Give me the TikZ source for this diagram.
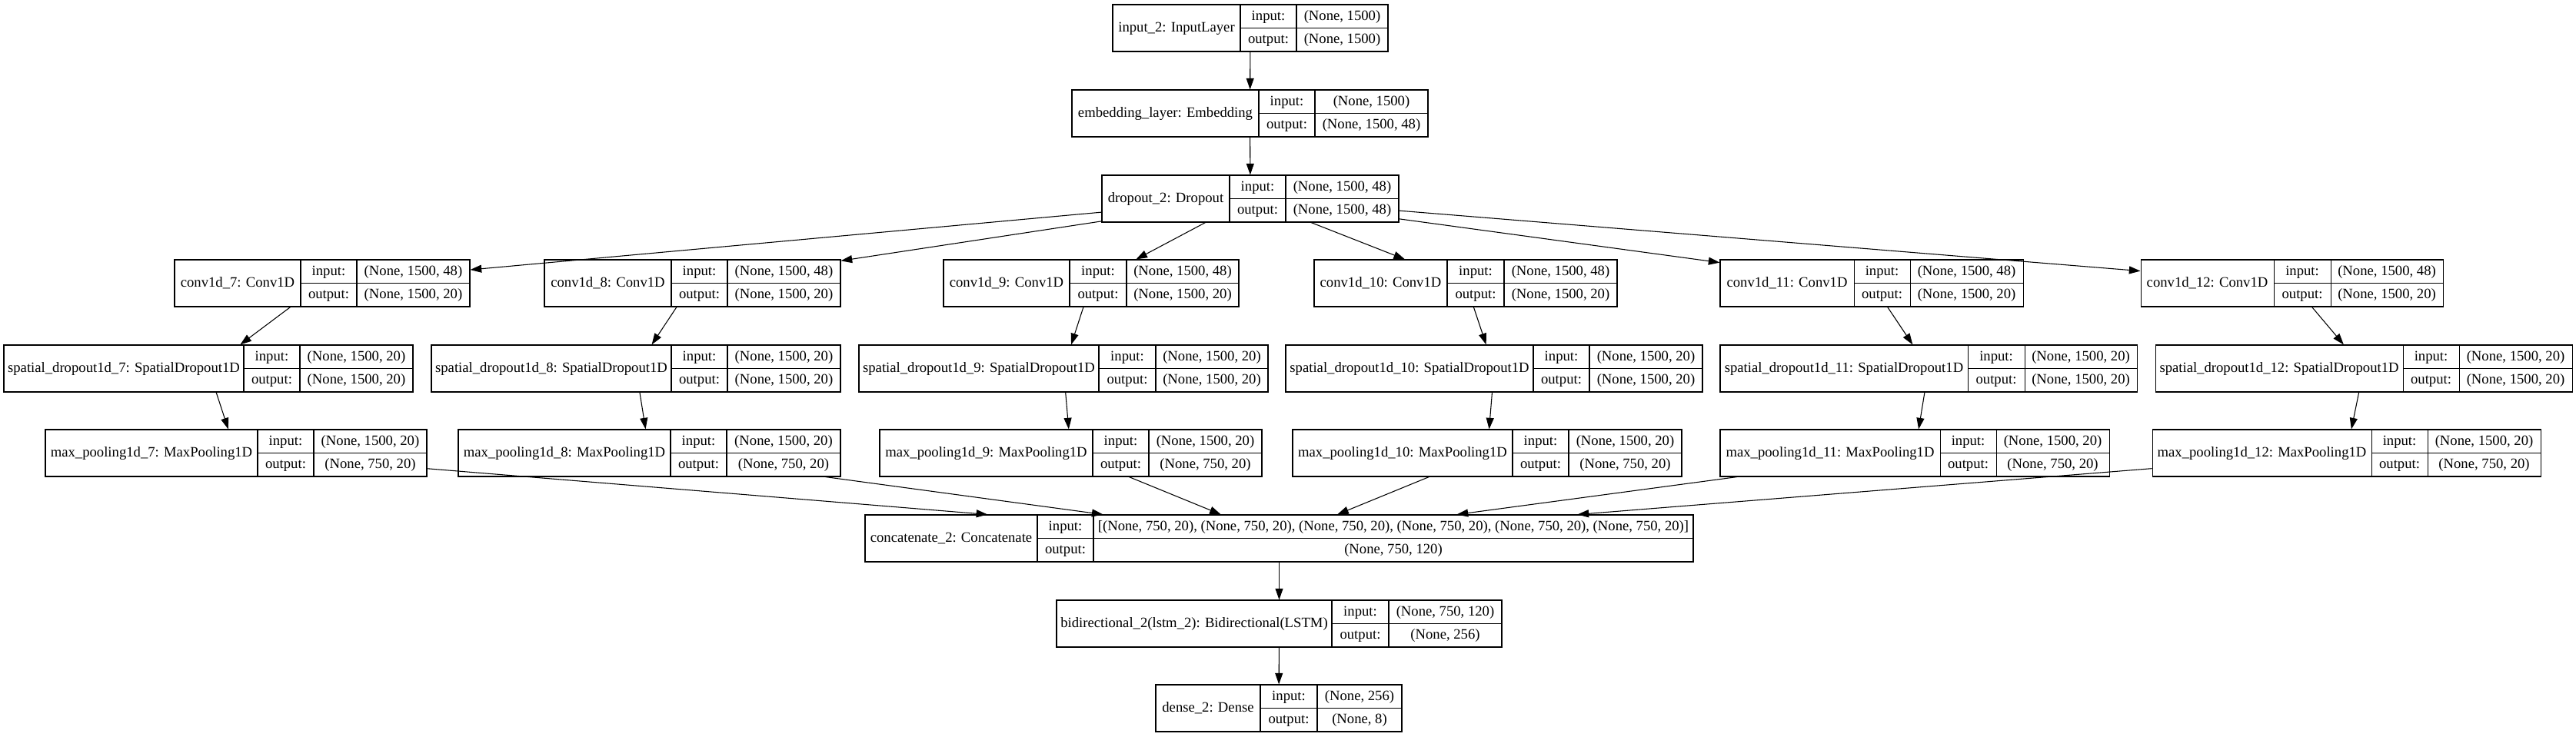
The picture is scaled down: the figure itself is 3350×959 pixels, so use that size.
\documentclass[tikz,border=0pt]{standalone}
\usepackage{fontspec}
\setmainfont{Liberation Serif}
\usetikzlibrary{arrows.meta, fit, positioning}
\tikzset{
	layerbox/.style={
			rectangle,
			draw=black,
			line width=0.8pt,
			inner sep=0pt
		},
	celltext/.style={
			inner sep=0pt,
			text height=10pt,
			text depth=2.8pt
		},
	divider/.style={
			draw=black,
			line width=0.8pt
		},
	flow/.style={
			line width=0.8pt,
			-{Triangle[length=11pt, width=7.5pt]}
		}
}
% \layer{name}{left}{split1}{split2}{right}{top}{label}{input}{output}
\newcommand{\layer}[9]{%
	\node[layerbox, fit={(#2,#6) (#5,#6+61)}] (#1) {};
	\draw[divider] (#3,#6) -- (#3,#6+61) (#4,#6) -- (#4,#6+61) (#3,#6+30.5) -- (#5,#6+30.5);
	\node[celltext] (#1-name) at ({(#2+#3)/2},#6+30.5) {#7};
	\node[celltext] (#1-in) at ({(#3+#4)/2},#6+15.25) {input:};
	\node[celltext] (#1-out) at ({(#3+#4)/2},#6+45.75) {output:};
	\node[celltext] (#1-inv) at ({(#4+#5)/2},#6+15.25) {#8};
	\node[celltext] (#1-outv) at ({(#4+#5)/2},#6+45.75) {#9};
}

\begin{document}
\begin{tikzpicture}[x=0.75pt, y=-0.75pt, font=\fontsize{14pt}{16pt}\selectfont]
\useasboundingbox (0,0) rectangle (3350,959);

\layer{input}{1447}{1613}{1686}{1805}{6}{input\_2: InputLayer}{(None, 1500)}{(None, 1500)}
\layer{embed}{1394}{1637}{1710}{1857}{117}{embedding\_layer: Embedding}{(None, 1500)}{(None, 1500, 48)}
\layer{drop}{1433}{1599}{1672}{1819}{228}{dropout\_2: Dropout}{(None, 1500, 48)}{(None, 1500, 48)}

\layer{conv7}{227}{391}{464}{611}{338}{conv1d\_7: Conv1D}{(None, 1500, 48)}{(None, 1500, 20)}
\layer{conv8}{708}{873}{946}{1093}{338}{conv1d\_8: Conv1D}{(None, 1500, 48)}{(None, 1500, 20)}
\layer{conv9}{1227}{1391}{1465}{1611}{338}{conv1d\_9: Conv1D}{(None, 1500, 48)}{(None, 1500, 20)}
\layer{conv10}{1709}{1882}{1956}{2103}{338}{conv1d\_10: Conv1D}{(None, 1500, 48)}{(None, 1500, 20)}
\layer{conv11}{2237}{2411}{2484}{2631}{338}{conv1d\_11: Conv1D}{(None, 1500, 48)}{(None, 1500, 20)}
\layer{conv12}{2784}{2957}{3031}{3177}{338}{conv1d\_12: Conv1D}{(None, 1500, 48)}{(None, 1500, 20)}

\layer{sd7}{5}{317}{390}{537}{449}{spatial\_dropout1d\_7: SpatialDropout1D}{(None, 1500, 20)}{(None, 1500, 20)}
\layer{sd8}{561}{873}{946}{1093}{449}{spatial\_dropout1d\_8: SpatialDropout1D}{(None, 1500, 20)}{(None, 1500, 20)}
\layer{sd9}{1117}{1429}{1503}{1649}{449}{spatial\_dropout1d\_9: SpatialDropout1D}{(None, 1500, 20)}{(None, 1500, 20)}
\layer{sd10}{1672}{1994}{2067}{2214}{449}{spatial\_dropout1d\_10: SpatialDropout1D}{(None, 1500, 20)}{(None, 1500, 20)}
\layer{sd11}{2237}{2559}{2633}{2779}{449}{spatial\_dropout1d\_11: SpatialDropout1D}{(None, 1500, 20)}{(None, 1500, 20)}
\layer{sd12}{2803}{3125}{3198}{3345}{449}{spatial\_dropout1d\_12: SpatialDropout1D}{(None, 1500, 20)}{(None, 1500, 20)}

\layer{pool7}{59}{335}{408}{555}{559}{max\_pooling1d\_7: MaxPooling1D}{(None, 1500, 20)}{(None, 750, 20)}
\layer{pool8}{596}{872}{945}{1093}{559}{max\_pooling1d\_8: MaxPooling1D}{(None, 1500, 20)}{(None, 750, 20)}
\layer{pool9}{1144}{1421}{1494}{1641}{559}{max\_pooling1d\_9: MaxPooling1D}{(None, 1500, 20)}{(None, 750, 20)}
\layer{pool10}{1681}{1967}{2040}{2187}{559}{max\_pooling1d\_10: MaxPooling1D}{(None, 1500, 20)}{(None, 750, 20)}
\layer{pool11}{2237}{2523}{2596}{2743}{559}{max\_pooling1d\_11: MaxPooling1D}{(None, 1500, 20)}{(None, 750, 20)}
\layer{pool12}{2799}{3084}{3157}{3304}{559}{max\_pooling1d\_12: MaxPooling1D}{(None, 1500, 20)}{(None, 750, 20)}

\layer{concat}{1125}{1349}{1422}{2202}{670}{concatenate\_2: Concatenate}{[(None, 750, 20), (None, 750, 20), (None, 750, 20), (None, 750, 20), (None, 750, 20), (None, 750, 20)]}{(None, 750, 120)}
\layer{bidir}{1374}{1732}{1806}{1953}{781}{bidirectional\_2(lstm\_2): Bidirectional(LSTM)}{(None, 750, 120)}{(None, 256)}
\layer{dense}{1503}{1639}{1713}{1823}{891}{dense\_2: Dense}{(None, 256)}{(None, 8)}

\draw[flow] (input) -- (embed);
\draw[flow] (embed) -- (drop);

\draw[flow] (drop) -- (conv7);
\draw[flow] (drop) -- (conv8);
\draw[flow] (drop) -- (conv9);
\draw[flow] (drop) -- (conv10);
\draw[flow] (drop) -- (conv11);
\draw[flow] (drop) -- (conv12);

\draw[flow] (conv7) -- (sd7);
\draw[flow] (conv8) -- (sd8);
\draw[flow] (conv9) -- (sd9);
\draw[flow] (conv10) -- (sd10);
\draw[flow] (conv11) -- (sd11);
\draw[flow] (conv12) -- (sd12);

\draw[flow] (sd7) -- (pool7);
\draw[flow] (sd8) -- (pool8);
\draw[flow] (sd9) -- (pool9);
\draw[flow] (sd10) -- (pool10);
\draw[flow] (sd11) -- (pool11);
\draw[flow] (sd12) -- (pool12);

\draw[flow] (pool7) -- (concat);
\draw[flow] (pool8) -- (concat);
\draw[flow] (pool9) -- (concat);
\draw[flow] (pool10) -- (concat);
\draw[flow] (pool11) -- (concat);
\draw[flow] (pool12) -- (concat);

\draw[flow] (concat) -- (bidir);
\draw[flow] (bidir) -- (dense);
\end{tikzpicture}
\end{document}
